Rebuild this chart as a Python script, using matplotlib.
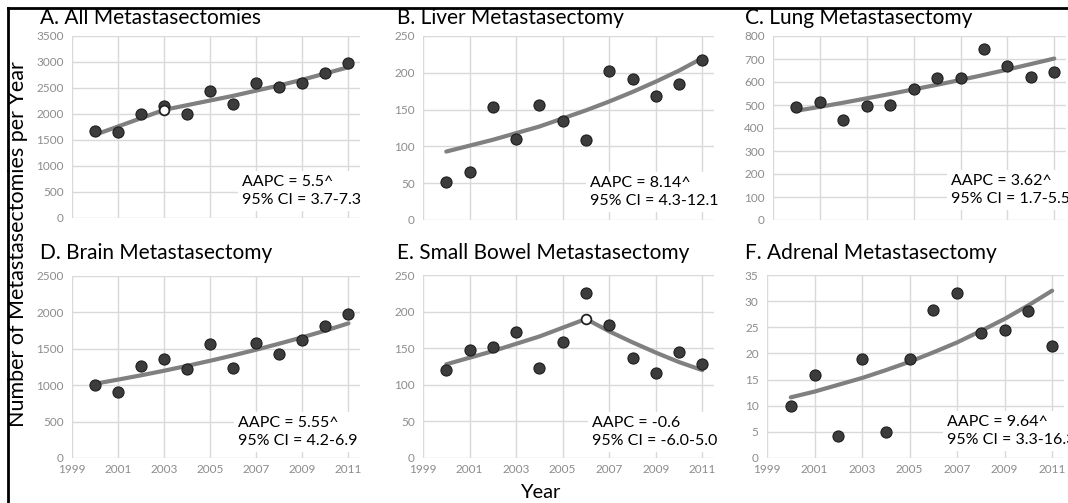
import matplotlib
matplotlib.use("Agg")
import matplotlib.pyplot as plt
from matplotlib.lines import Line2D

plt.rcParams['font.family'] = ['Lato', 'DejaVu Sans']

years = [2000, 2001, 2002, 2003, 2004, 2005, 2006, 2007, 2008, 2009, 2010, 2011]

# observed counts per year
all_obs = [1670, 1650, 2000, 2150, 2000, 2450, 2200, 2600, 2520, 2590, 2780, 2990]
liver_obs = [52, 65, 154, 110, 156, 134, 109, 202, 191, 169, 185, 218]
lung_obs = [490, 514, 435, 496, 500, 570, 616, 617, 745, 670, 623, 643]
brain_obs = [1000, 909, 1270, 1355, 1220, 1570, 1239, 1586, 1426, 1618, 1810, 1979]
bowel_obs = [120, 147, 152, 172, 123, 158, 226, 182, 137, 116, 145, 129]
adrenal_obs = [9.9, 15.8, 4.3, 18.9, 5.0, 18.9, 28.4, 31.6, 24.0, 24.4, 28.2, 21.4]

# modelled (joinpoint) values per year
all_fit = [1600, 1760, 1920, 2080, 2170, 2260, 2350, 2450, 2550, 2660, 2780, 2900]
liver_fit = [93, 101, 109, 118, 127, 138, 149, 161, 174, 188, 203, 220]
lung_fit = [475, 492, 510, 529, 548, 568, 588, 609, 631, 654, 678, 702]
brain_fit = [1020, 1077, 1136, 1199, 1266, 1336, 1410, 1488, 1571, 1658, 1750, 1850]
bowel_fit = [128, 137, 146, 156, 166, 178, 190, 173, 158, 144, 131, 120]
adrenal_fit = [11.6, 12.7, 14.0, 15.3, 16.8, 18.4, 20.2, 22.1, 24.3, 26.6, 29.2, 32.0]

# joinpoints (open markers)
all_joint = (2003, 2080)
bowel_joint = (2006, 190)

titles = ["A. All Metastasectomies", "B. Liver Metastasectomy", "C. Lung Metastasectomy",
          "D. Brain Metastasectomy", "E. Small Bowel Metastasectomy", "F. Adrenal Metastasectomy"]
notes = ["AAPC = 5.5^\n95% CI = 3.7-7.3", "AAPC = 8.14^\n95% CI = 4.3-12.1",
         "AAPC = 3.62^\n95% CI = 1.7-5.5", "AAPC = 5.55^\n95% CI = 4.2-6.9",
         "AAPC = -0.6\n95% CI = -6.0-5.0", "AAPC = 9.64^\n95% CI = 3.3-16.3"]
y_max = [3500, 250, 800, 2500, 250, 35]
y_step = [500, 50, 100, 500, 50, 5]

W, H = 1068, 503
fig = plt.figure(figsize=(W / 100, H / 100), dpi=100)

# axes boxes in pixels: left, top, right, bottom
boxes = [(72, 36, 360, 218), (423, 36, 714, 220), (773, 36, 1066, 220),
         (72, 276, 360, 458), (423, 275, 714, 458), (767, 275, 1064, 458)]
title_pos = [(40, 18), (397, 18), (745, 18), (40, 253), (397, 253), (745, 253)]
note_pos = [(0.59, 0.148), (0.574, 0.152), (0.607, 0.163),
            (0.576, 0.143), (0.581, 0.142), (0.606, 0.147)]

obs = [all_obs, liver_obs, lung_obs, brain_obs, bowel_obs, adrenal_obs]
fits = [all_fit, liver_fit, lung_fit, brain_fit, bowel_fit, adrenal_fit]
joints = [all_joint, None, None, None, bowel_joint, None]

for i in range(6):
    l, t, r, b = boxes[i]
    ax = fig.add_axes([l / W, 1 - b / H, (r - l) / W, (b - t) / H])
    ax.set_xlim(1999, 2011.5)
    ax.set_ylim(0, y_max[i])
    ax.set_xticks(range(1999, 2012, 2))
    ax.set_yticks(range(0, y_max[i] + 1, y_step[i]))
    ax.grid(True, color='#d9d9d9', linewidth=1)
    ax.set_axisbelow(True)
    for s in ax.spines.values():
        s.set_visible(False)
    ax.tick_params(length=0, labelsize=8.5, labelcolor='#8c8c8c', pad=6)
    if i < 3:
        ax.set_xticklabels([])
    else:
        ax.tick_params(axis='x', pad=4)

    ax.plot(years, fits[i], color='#808080', linewidth=3, solid_capstyle='round', zorder=2)
    ax.plot(years, obs[i], 'o', markersize=8, markerfacecolor='#3c3c3c',
            markeredgecolor='#1e1e1e', markeredgewidth=0.8, zorder=3)
    if joints[i] is not None:
        ax.plot(joints[i][0], joints[i][1], 'o', markersize=7, markerfacecolor='white',
                markeredgecolor='#222222', markeredgewidth=1.3, zorder=4)

    ax.text(note_pos[i][0], note_pos[i][1], notes[i], transform=ax.transAxes,
            fontsize=11.5, ha='left', va='center', linespacing=1.35, zorder=5,
            bbox=dict(facecolor='white', edgecolor='none', pad=3))

    fig.text(title_pos[i][0] / W, 1 - title_pos[i][1] / H, titles[i],
             fontsize=15, ha='left', va='center')

fig.text(18 / W, 1 - 244 / H, "Number of Metastasectomies per Year", rotation=90,
         fontsize=15.5, ha='center', va='center')
fig.text(540 / W, 1 - 492 / H, "Year", fontsize=14.5, ha='center', va='center')

# outer frame (left and top edges)
fig.add_artist(Line2D([8 / W, 8 / W], [0, 1 - 8 / H], color='black', linewidth=2,
                      transform=fig.transFigure))
fig.add_artist(Line2D([8 / W, 1], [1 - 8 / H, 1 - 8 / H], color='black', linewidth=2,
                      transform=fig.transFigure))

fig.savefig("out.png", dpi=100, facecolor='white')
